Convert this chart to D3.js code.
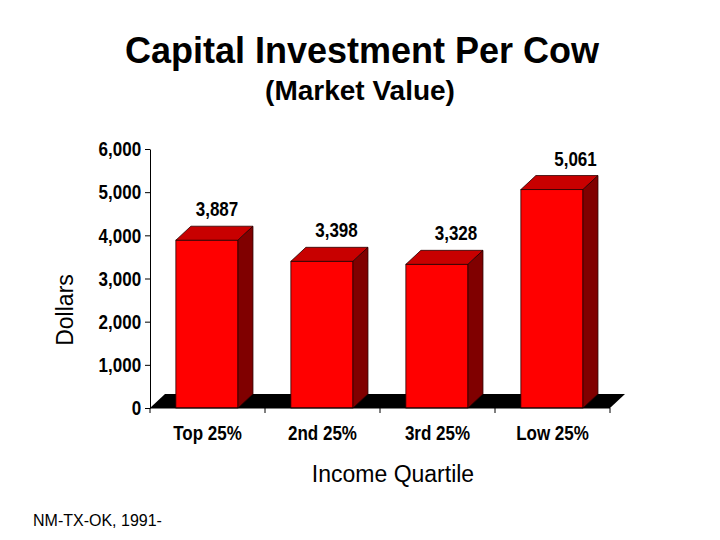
<!DOCTYPE html>
<html>
<head>
<meta charset="utf-8">
<script src="https://cdn.jsdelivr.net/npm/d3@7"></script>
<style>
  body { margin: 0; background: #fff; }
  .narrow { font-family: "Liberation Sans", Arial, sans-serif; font-weight: bold; font-size: 21px; }
</style>
</head>
<body>
<svg id="chart" width="720" height="540"></svg>
<script>
var categories = ["Top 25%", "2nd 25%", "3rd 25%", "Low 25%"];
var values = [3887, 3398, 3328, 5061];
var valueLabels = ["3,887", "3,398", "3,328", "5,061"];
var yTicks = [0, 1000, 2000, 3000, 4000, 5000, 6000];

var svg = d3.select("#chart");
var plotLeft = 150, plotRight = 610, plotTop = 149, plotBottom = 408;
var dx = 15, dy = 14; // depth of the 3d effect
var squeeze = 0.81;   // narrow bold look

var x = d3.scaleBand().domain(categories).range([plotLeft, plotRight]);
var y = d3.scaleLinear().domain([0, 6000]).range([plotBottom, plotTop]);
// value labels drift a bit to the right in the original
var xLab = d3.scalePoint().domain(categories).range([217, 575.5]);

// titles
svg.append("text")
    .attr("x", 362).attr("y", 63)
    .attr("text-anchor", "middle")
    .style("font", "bold 36px 'Liberation Sans', Arial, sans-serif")
    .text("Capital Investment Per Cow");

svg.append("text")
    .attr("x", 360).attr("y", 100)
    .attr("text-anchor", "middle")
    .style("font", "bold 28px 'Liberation Sans', Arial, sans-serif")
    .text("(Market Value)");

// floor
svg.append("path")
    .attr("d", "M" + plotLeft + "," + plotBottom +
        "L" + (plotLeft + dx) + "," + (plotBottom - dy) +
        "L" + (plotRight + dx) + "," + (plotBottom - dy) +
        "L" + plotRight + "," + plotBottom + "Z")
    .attr("fill", "#000");

// bars
var bw = x.bandwidth() * 0.54;
var off = x.bandwidth() * 0.225;

var bar = svg.selectAll(".bar")
    .data(values)
    .enter().append("g")
    .attr("class", "bar");

bar.append("rect")
    .attr("x", function(d, i) { return x(categories[i]) + off; })
    .attr("y", function(d) { return y(d); })
    .attr("width", bw)
    .attr("height", function(d) { return plotBottom - y(d); })
    .attr("fill", "#ff0000")
    .attr("stroke", "#2a0000")
    .attr("stroke-width", 0.8);

bar.append("path")
    .attr("d", function(d, i) {
        var x0 = x(categories[i]) + off, y0 = y(d);
        return "M" + x0 + "," + y0 + "L" + (x0 + dx) + "," + (y0 - dy) +
            "L" + (x0 + bw + dx) + "," + (y0 - dy) + "L" + (x0 + bw) + "," + y0 + "Z";
    })
    .attr("fill", "#c80000")
    .attr("stroke", "#2a0000")
    .attr("stroke-width", 0.8);

bar.append("path")
    .attr("d", function(d, i) {
        var x1 = x(categories[i]) + off + bw, y0 = y(d);
        return "M" + x1 + "," + y0 + "L" + (x1 + dx) + "," + (y0 - dy) +
            "L" + (x1 + dx) + "," + (plotBottom - dy) + "L" + x1 + "," + plotBottom + "Z";
    })
    .attr("fill", "#800000")
    .attr("stroke", "#2a0000")
    .attr("stroke-width", 0.8);

bar.append("text")
    .attr("class", "narrow")
    .attr("transform", function(d, i) {
        return "translate(" + xLab(categories[i]) + "," + (y(d) - dy - 10) + ") scale(" + squeeze + ",1)";
    })
    .attr("text-anchor", "middle")
    .text(function(d, i) { return valueLabels[i]; });

// y axis
var yAxis = svg.append("g")
    .attr("transform", "translate(" + plotLeft + ",0)")
    .call(d3.axisLeft(y).tickValues(yTicks).tickSize(5).tickSizeOuter(0)
        .tickFormat(d3.format(",")));
yAxis.selectAll("text")
    .attr("class", "narrow")
    .attr("fill", "#000")
    .attr("x", -11)
    .attr("transform", "scale(" + squeeze + ",1)");
yAxis.selectAll("line, path").attr("stroke", "#000");

// x axis
var xAxis = svg.append("g")
    .attr("transform", "translate(0," + plotBottom + ")");
xAxis.append("line")
    .attr("x1", plotLeft).attr("x2", plotRight)
    .attr("stroke", "#000");
xAxis.selectAll(".tick")
    .data(categories.concat([null]))
    .enter().append("line")
    .attr("x1", function(d) { return d === null ? plotRight : x(d); })
    .attr("x2", function(d) { return d === null ? plotRight : x(d); })
    .attr("y1", 0).attr("y2", 5)
    .attr("stroke", "#000");
xAxis.selectAll(".cat")
    .data(categories)
    .enter().append("text")
    .attr("class", "narrow")
    .attr("transform", function(d) {
        return "translate(" + (x(d) + x.bandwidth() / 2) + ",32) scale(" + squeeze + ",1)";
    })
    .attr("text-anchor", "middle")
    .text(function(d) { return d; });

// axis titles
svg.append("text")
    .attr("transform", "translate(73,310) rotate(-90)")
    .attr("text-anchor", "middle")
    .style("font", "23px 'Liberation Sans', Arial, sans-serif")
    .text("Dollars");

svg.append("text")
    .attr("x", 393).attr("y", 482)
    .attr("text-anchor", "middle")
    .style("font", "23px 'Liberation Sans', Arial, sans-serif")
    .text("Income Quartile");

svg.append("text")
    .attr("x", 33).attr("y", 526)
    .style("font", "16px 'Liberation Sans', Arial, sans-serif")
    .text("NM-TX-OK, 1991-");
</script>
</body>
</html>
